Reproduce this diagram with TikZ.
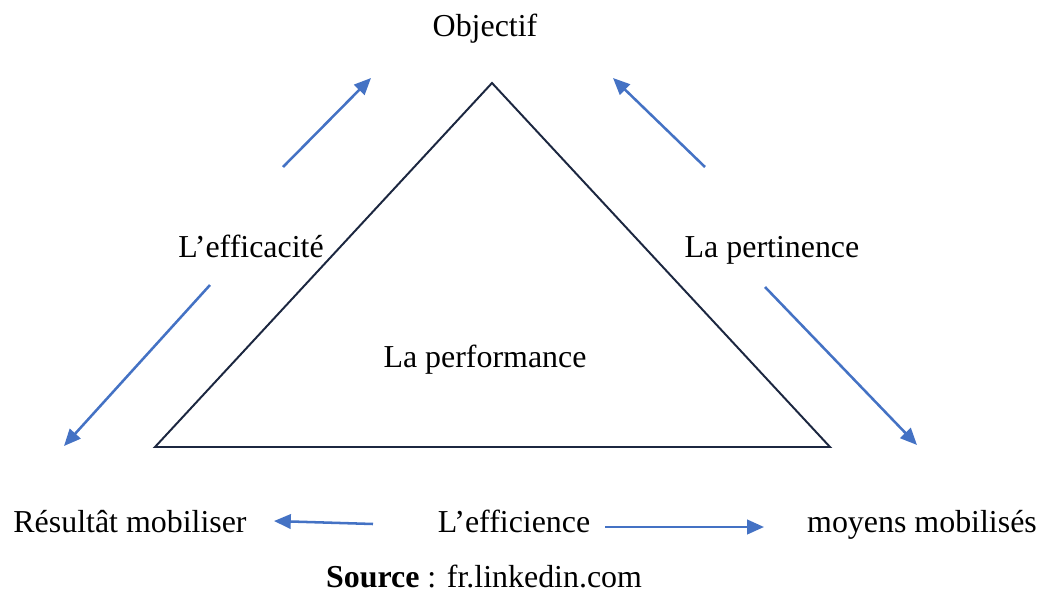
\documentclass[tikz,border=0pt]{standalone}
\usepackage{fontspec}
\setmainfont{Liberation Serif}
\usetikzlibrary{arrows.meta}
\definecolor{arrowblue}{HTML}{4472C4}
\definecolor{navy}{HTML}{1C2740}

\begin{document}
\begin{tikzpicture}[x=0.025cm,y=-0.025cm,font=\fontsize{22.7}{27}\selectfont]
\tikzstyle{lbl}=[anchor=base,inner sep=0pt]
\tikzstyle{flow}=[draw=arrowblue,line width=1.8pt,-{Triangle[length=0.42cm,width=0.36cm]}]
\useasboundingbox (0,0) rectangle (1047,592);

% triangle
\coordinate (top) at (492,83);
\coordinate (bl) at (155,447);
\coordinate (br) at (830,447);
\draw[navy,line width=1.4pt,line join=miter] (top) -- (bl) -- (br) -- cycle;

% labels
\node[lbl](obj) at (485,36) {Objectif};
\node[lbl](eff) at (251,257) {L’efficacité};
\node[lbl](pert) at (772,257) {La pertinence};
\node[lbl](perf) at (485,367) {La performance};
\node[lbl](res) at (130,532) {Résultât mobiliser};
\node[lbl](effi) at (514,532) {L’efficience};
\node[lbl](moy) at (922,532) {moyens mobilisés};
\node[lbl](src) at (484,587) {\textbf{Source} : fr.linkedin.com};

% arrow ends
\coordinate (a1) at (283,167); \coordinate (b1) at (371,78);
\coordinate (a2) at (705,167); \coordinate (b2) at (613,78);
\coordinate (a3) at (210,285); \coordinate (b3) at (64,446);
\coordinate (a4) at (765,287); \coordinate (b4) at (917,445);
\coordinate (a5) at (373,524); \coordinate (b5) at (274,521);
\coordinate (a6) at (605,527); \coordinate (b6) at (764,527);

\path (a1) edge[flow] (b1) % up to the goal
      (a2) edge[flow] (b2)
      (a3) edge[flow] (b3)
      (a4) edge[flow] (b4)
      (a5) edge[flow] (b5)
      (a6) edge[flow] (b6);

\end{tikzpicture}
\end{document}
